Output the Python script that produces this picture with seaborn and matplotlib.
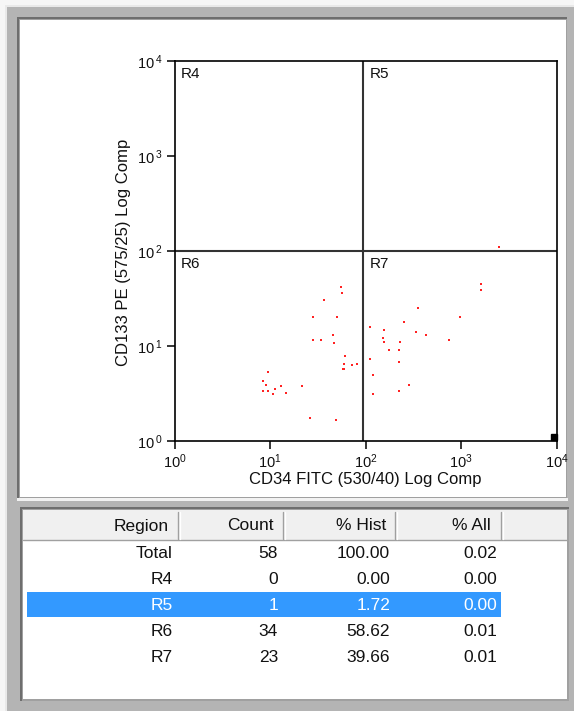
import matplotlib
matplotlib.use("Agg")
import matplotlib.pyplot as plt
import seaborn as sns
import pandas as pd
from matplotlib.patches import Rectangle
from matplotlib.lines import Line2D
from matplotlib.ticker import NullLocator

# ---------------- data ----------------
r6_x = [54.8, 57.0, 37.0, 28.4, 50.6, 45.3, 28.4, 34.4, 47.0, 61.4, 59.4, 72.1, 81.3,
        59.8, 57.9, 9.53, 8.49, 9.14, 8.49, 9.53, 11.2, 13.0, 10.7, 14.6, 21.6, 26.2, 49.0]
r6_y = [42.1, 35.9, 30.7, 20.0, 20.0, 13.1, 11.6, 11.6, 10.8, 7.85, 6.47, 6.27, 6.47,
        5.77, 5.77, 5.32, 4.25, 3.92, 3.36, 3.36, 3.50, 3.77, 3.10, 3.22, 3.77, 1.73, 1.66]
r7_x = [356, 979, 251, 110, 157, 340, 432, 151, 157, 231, 741, 177, 224, 110, 224,
        119, 282, 224, 119, 1614, 1614]
r7_y = [25.3, 20.0, 17.7, 15.8, 14.6, 14.0, 13.1, 12.0, 11.1, 11.1, 11.6, 9.14, 9.14,
        7.24, 6.73, 4.92, 3.88, 3.33, 3.10, 45.3, 38.8]
r5_x = [2489]
r5_y = [111]

quad_x = 94.6
quad_y = 100.0
axis_ticks = [1, 10, 100, 1000, 10000]
x_tick_labels = [r"$\mathregular{10^{0}}$", r"$\mathregular{10^{1}}$", r"$\mathregular{10^{2}}$",
                 r"$\mathregular{10^{3}}$", r"$\mathregular{10^{4}}$"]
y_tick_labels = [r"$\mathregular{10\,^{0}}$", r"$\mathregular{10\,^{1}}$", r"$\mathregular{10\,^{2}}$",
                 r"$\mathregular{10\,^{3}}$", r"$\mathregular{10\,^{4}}$"]
x_title = "CD34 FITC (530/40) Log Comp"
y_title = "CD133 PE (575/25) Log Comp"
quadrant_names = ["R4", "R5", "R6", "R7"]

col_headers = ["Region", "Count", "% Hist", "% All"]
regions = ["Total", "R4", "R5", "R6", "R7"]
counts = ["58", "0", "1", "34", "23"]
pct_hist = ["100.00", "0.00", "1.72", "58.62", "39.66"]
pct_all = ["0.02", "0.00", "0.00", "0.01", "0.01"]
selected_row = "R5"

df = pd.DataFrame({
    "x": r6_x + r7_x + r5_x,
    "y": r6_y + r7_y + r5_y,
    "region": ["R6"] * len(r6_x) + ["R7"] * len(r7_x) + ["R5"] * len(r5_x),
})

# ---------------- style ----------------
sns.set_theme(style="white")
plt.rcParams["font.family"] = ["Liberation Sans", "DejaVu Sans"]
plt.rcParams["mathtext.fontset"] = "custom"
plt.rcParams["mathtext.rm"] = "Liberation Sans"

W, H = 574, 711
fig = plt.figure(figsize=(W / 100, H / 100), dpi=100, facecolor="#f6f6f6")


def rect(x0, y0, x1, y1, color, z=0):
    fig.add_artist(Rectangle((x0 / W, 1 - y1 / H), (x1 - x0) / W, (y1 - y0) / H,
                             transform=fig.transFigure, facecolor=color,
                             edgecolor="none", zorder=z))


def hline(x0, x1, y, color, lw=1.0, z=2):
    fig.add_artist(Line2D([x0 / W, x1 / W], [1 - y / H, 1 - y / H],
                          transform=fig.transFigure, color=color, lw=lw, zorder=z))


def vline(x, y0, y1, color, lw=1.0, z=2):
    fig.add_artist(Line2D([x / W, x / W], [1 - y0 / H, 1 - y1 / H],
                          transform=fig.transFigure, color=color, lw=lw, zorder=z))


# window frame
rect(5, 5, W, H, "#e9e9e9", z=0)
rect(7, 7, W, H, "#b4b4b4", z=0.1)
# top panel
rect(17, 17, 567, 499, "#6e6e6e", z=0.2)
rect(19, 19, 567, 499, "#a0a0a0", z=0.3)
rect(20, 20, 566, 497, "white", z=0.4)
rect(17, 498, 568, 501, "#f2f2f2", z=0.45)
# table panel
rect(20, 507, 569, 701, "#6e6e6e", z=0.2)
rect(22, 509, 569, 701, "#a0a0a0", z=0.3)
rect(23, 510, 567, 699, "white", z=0.4)
# header
rect(23, 510, 567, 540, "#f0f0f0", z=0.5)
hline(23, 567, 540, "#a0a0a0", lw=1.0, z=0.6)
for sx in [178, 283, 395, 501]:
    vline(sx, 512, 539, "#a0a0a0", lw=1.0, z=0.6)
    vline(sx + 1.5, 512, 539, "white", lw=1.0, z=0.6)
# selected row
row_y = [552, 578, 604, 630, 656]
sel = regions.index(selected_row)
rect(27, row_y[sel] - 12.5, 501, row_y[sel] + 12.5, "#3399ff", z=0.5)

# table text
hdr_right = [169, 274, 386, 491]
col_right = [173, 278, 390, 497]
for name, xr in zip(col_headers, hdr_right):
    fig.text(xr / W, 1 - 526 / H, name, ha="right", va="center", fontsize=12.5,
             color="#111111", zorder=1)
for i, cols in enumerate(zip(regions, counts, pct_hist, pct_all)):
    c = "white" if i == sel else "#111111"
    for val, xr in zip(cols, col_right):
        fig.text(xr / W, 1 - (row_y[i] + 1) / H, val, ha="right", va="center",
                 fontsize=12.5, color=c, zorder=1)

# ---------------- dot plot ----------------
x0p, x1p, y0p, y1p = 174.5, 556.7, 61, 441
ax = fig.add_axes([x0p / W, 1 - y1p / H, (x1p - x0p) / W, (y1p - y0p) / H])
ax.set_zorder(2)
ax.set_facecolor("white")
sns.scatterplot(data=df, x="x", y="y", ax=ax, color="#ff2222", marker="s",
                s=4.2, linewidth=0, legend=False, zorder=3)
ax.set_xscale("log")
ax.set_yscale("log")
ax.set_xlim(axis_ticks[0], axis_ticks[-1])
ax.set_ylim(axis_ticks[0], axis_ticks[-1])
ax.set_xticks(axis_ticks)
ax.set_yticks(axis_ticks)
ax.set_xticklabels(x_tick_labels)
ax.set_yticklabels(y_tick_labels)
ax.xaxis.set_minor_locator(NullLocator())
ax.yaxis.set_minor_locator(NullLocator())
ax.tick_params(axis="both", which="major", direction="out", length=6, width=1.1,
               color="black", labelsize=10.5, labelcolor="#111111", pad=2,
               bottom=True, left=True)
for sp in ax.spines.values():
    sp.set_color("black")
    sp.set_linewidth(1.2)
    sp.set_visible(True)

ax.axvline(quad_x, color="#333333", lw=1.5, zorder=2)
ax.axhline(quad_y, color="#333333", lw=1.5, zorder=2)

anchors = [(axis_ticks[0], axis_ticks[-1]), (quad_x, axis_ticks[-1]),
           (axis_ticks[0], quad_y), (quad_x, quad_y)]
for name, (ax_x, ax_y) in zip(quadrant_names, anchors):
    ax.annotate(name, xy=(ax_x, ax_y), xytext=(4.5, -4), textcoords="offset points",
                ha="left", va="top", fontsize=11, color="#111111")

# corner handle
ax.plot([0.993], [0.01], marker="s", color="black", markersize=4.5,
        transform=ax.transAxes, clip_on=False, zorder=4)

ax.set_xlabel(x_title, fontsize=12, color="#111111")
ax.set_ylabel(y_title, fontsize=12, color="#111111")
ax.xaxis.set_label_coords((365 - x0p) / (x1p - x0p), -(472 - y1p) / (y1p - y0p))
ax.yaxis.set_label_coords(-(x0p - 131) / (x1p - x0p), (y1p - 252) / (y1p - y0p))

fig.savefig("out.png", dpi=100, facecolor=fig.get_facecolor())
